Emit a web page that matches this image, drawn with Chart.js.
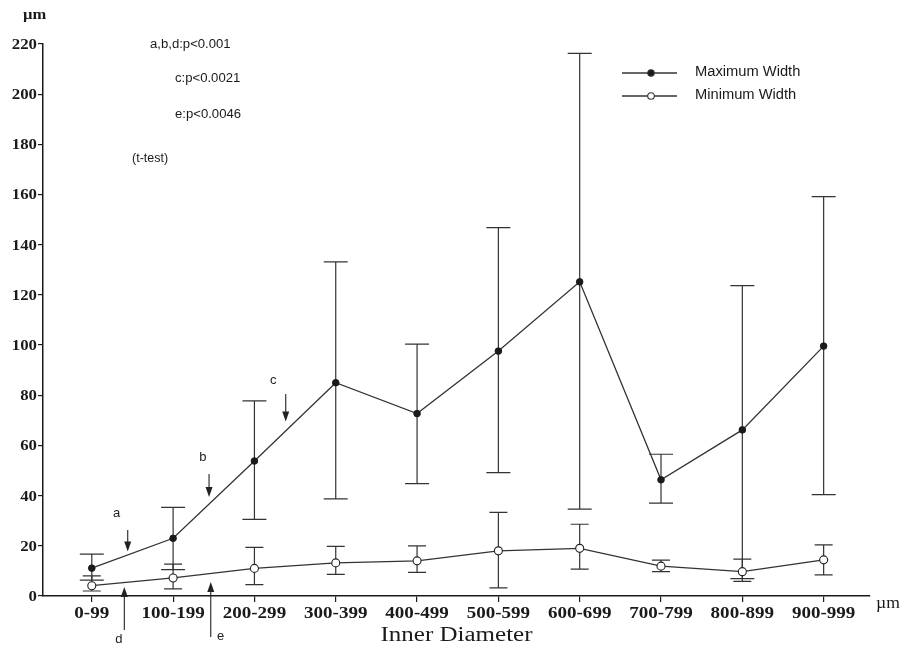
<!DOCTYPE html>
<html>
<head>
<meta charset="utf-8">
<script src="https://cdn.jsdelivr.net/npm/chart.js@4/dist/chart.umd.min.js"></script>
<style>
  html, body { margin: 0; padding: 0; background: #ffffff; }
  canvas { display: block; }
</style>
</head>
<body>
<canvas id="c" width="905" height="647"></canvas>
<script>
// ---- data ----
const categories = ['0-99','100-199','200-299','300-399','400-499','500-599','600-699','700-799','800-899','900-999'];
const yTicks = [0,20,40,60,80,100,120,140,160,180,200,220];

const maxMean  = [11.1, 23.0, 53.8, 85.0, 72.7, 97.6, 125.2, 46.3, 66.2, 99.6];
const maxUpper = [16.7, 35.3, 77.8, 133.2, 100.4, 146.8, 216.3, 56.5, 123.7, 159.2];
const maxLower = [6.3, 10.5, 30.5, 38.7, 44.8, 49.2, 34.6, 37.0, 6.9, 40.4];

const minMean  = [4.1, 7.2, 11.0, 13.2, 14.0, 18.0, 19.0, 11.9, 9.7, 14.4];
const minUpper = [8.0, 12.7, 19.4, 19.8, 20.0, 33.3, 28.6, 14.3, 14.7, 20.4];
const minLower = [2.0, 2.8, 4.5, 8.6, 9.4, 3.2, 10.7, 9.7, 5.8, 8.4];

const seriesNames = ['Maximum Width', 'Minimum Width'];
const statsLines = ['a,b,d:p<0.001', 'c:p<0.0021', 'e:p<0.0046', '(t-test)'];
const xTitle = 'Inner Diameter';
const unit = '\u00B5m';

// significance arrows: x in category units, y in data units
const arrowsDown = [
  { label: 'a', x: 0.442, y1: 26.3, y2: 17.7, lx: 0.26, ly: 33.1 },
  { label: 'b', x: 1.442, y1: 48.6, y2: 39.5, lx: 1.32, ly: 55.4 },
  { label: 'c', x: 2.385, y1: 80.5, y2: 69.5, lx: 2.19, ly: 86.1 }
];
const arrowsUp = [
  { label: 'd', x: 0.40, y1: -13.6, y2: 3.6, lx: 0.29, ly: -17.3 },
  { label: 'e', x: 1.463, y1: -16.3, y2: 5.6, lx: 1.54, ly: -16.3 }
];

const INK = '#1a1a1a';
const SERIF = '"Liberation Serif", "Times New Roman", serif';
const SANS = '"Liberation Sans", Arial, sans-serif';

function toPts(arr) { return arr.map((v, i) => ({ x: i, y: v })); }

function sText(ctx, text, x, y, align, sx) {
  ctx.save();
  ctx.translate(x, y);
  ctx.scale(sx, 1);
  ctx.textAlign = align;
  ctx.fillText(text, 0, 0);
  ctx.restore();
}

const errorBars = {
  id: 'errorBars',
  beforeDatasetsDraw(chart) {
    const { ctx, scales: { x, y } } = chart;
    const sets = [
      { lo: maxLower, hi: maxUpper, cap: 12 },
      { lo: minLower, hi: minUpper, cap: 9 }
    ];
    ctx.save();
    ctx.strokeStyle = '#333';
    ctx.lineWidth = 1.2;
    sets.forEach(s => {
      categories.forEach((c, i) => {
        const px = x.getPixelForValue(i);
        const pHi = y.getPixelForValue(s.hi[i]);
        const pLo = y.getPixelForValue(s.lo[i]);
        ctx.beginPath();
        ctx.moveTo(px, pHi); ctx.lineTo(px, pLo);
        ctx.moveTo(px - s.cap, pHi); ctx.lineTo(px + s.cap, pHi);
        ctx.moveTo(px - s.cap, pLo); ctx.lineTo(px + s.cap, pLo);
        ctx.stroke();
      });
    });
    ctx.restore();
  }
};

const decorations = {
  id: 'decorations',
  afterDraw(chart) {
    const { ctx, scales: { x, y }, chartArea } = chart;
    ctx.save();
    ctx.fillStyle = INK;
    ctx.textBaseline = 'middle';

    // y tick labels
    ctx.font = 'bold 15px ' + SERIF;
    yTicks.forEach(v => sText(ctx, String(v), chartArea.left - 6, y.getPixelForValue(v) + 1, 'right', 1.12));
    // x tick labels
    ctx.font = 'bold 17px ' + SERIF;
    categories.forEach((c, i) => sText(ctx, c, x.getPixelForValue(i), chartArea.bottom + 18, 'center', 1.12));
    // units
    ctx.font = 'bold 15px ' + SERIF;
    sText(ctx, unit, 23, 15, 'left', 1.1);
    ctx.font = '16px ' + SERIF;
    sText(ctx, unit, chartArea.right + 6, chartArea.bottom + 8, 'left', 1.1);
    // x title
    ctx.font = '20px ' + SERIF;
    sText(ctx, xTitle, (chartArea.left + chartArea.right) / 2 + 0, chartArea.bottom + 40, 'center', 1.25);

    // stats text
    ctx.font = '12.5px ' + SANS;
    sText(ctx, statsLines[0], 150, 45, 'left', 1.05);
    sText(ctx, statsLines[1], 175, 79, 'left', 1.05);
    sText(ctx, statsLines[2], 175, 115, 'left', 1.05);
    sText(ctx, statsLines[3], 132, 159, 'left', 1.0);

    // legend
    const legendRows = [
      { name: seriesNames[0], yy: 73, fill: INK, r: 3.2 },
      { name: seriesNames[1], yy: 96, fill: '#ffffff', r: 3.3 }
    ];
    legendRows.forEach(row => {
      ctx.strokeStyle = '#333';
      ctx.lineWidth = 1.3;
      ctx.beginPath(); ctx.moveTo(622, row.yy); ctx.lineTo(677, row.yy); ctx.stroke();
      ctx.beginPath(); ctx.arc(651, row.yy, row.r, 0, Math.PI * 2);
      ctx.fillStyle = row.fill; ctx.fill(); ctx.lineWidth = 1.1; ctx.stroke();
      ctx.fillStyle = INK;
      ctx.font = '14px ' + SANS;
      sText(ctx, row.name, 695, row.yy - 1, 'left', 1.05);
    });

    // arrows
    ctx.strokeStyle = '#222';
    ctx.fillStyle = '#222';
    ctx.lineWidth = 1.1;
    ctx.font = '13px ' + SANS;
    const head = (px, py, dir) => { // dir 1 = down, -1 = up
      ctx.beginPath();
      ctx.moveTo(px, py);
      ctx.lineTo(px - 3.5, py - dir * 10);
      ctx.lineTo(px + 3.5, py - dir * 10);
      ctx.closePath();
      ctx.fill();
    };
    arrowsDown.forEach(a => {
      const px = x.getPixelForValue(a.x);
      const p1 = y.getPixelForValue(a.y1), p2 = y.getPixelForValue(a.y2);
      ctx.beginPath(); ctx.moveTo(px, p1); ctx.lineTo(px, p2 - 6); ctx.stroke();
      head(px, p2, 1);
      ctx.fillText(a.label, x.getPixelForValue(a.lx), y.getPixelForValue(a.ly));
    });
    arrowsUp.forEach(a => {
      const px = x.getPixelForValue(a.x);
      const p1 = y.getPixelForValue(a.y1), p2 = y.getPixelForValue(a.y2);
      ctx.beginPath(); ctx.moveTo(px, p1); ctx.lineTo(px, p2 + 6); ctx.stroke();
      head(px, p2, -1);
      ctx.fillText(a.label, x.getPixelForValue(a.lx), y.getPixelForValue(a.ly));
    });
    ctx.restore();
  }
};

new Chart(document.getElementById('c'), {
  type: 'line',
  data: {
    datasets: [
      {
        label: seriesNames[0],
        data: toPts(maxMean),
        borderColor: '#333',
        borderWidth: 1.3,
        pointRadius: 3.3,
        pointBackgroundColor: INK,
        pointBorderColor: INK,
        pointBorderWidth: 1,
        tension: 0,
        fill: false
      },
      {
        label: seriesNames[1],
        data: toPts(minMean),
        borderColor: '#333',
        borderWidth: 1.3,
        pointRadius: 4,
        pointBackgroundColor: '#ffffff',
        pointBorderColor: '#222',
        pointBorderWidth: 1.1,
        tension: 0,
        fill: false
      }
    ]
  },
  options: {
    responsive: false,
    animation: false,
    devicePixelRatio: 1,
    layout: { padding: { top: 44, right: 35, left: 0, bottom: 0 } },
    plugins: { legend: { display: false }, tooltip: { enabled: false } },
    scales: {
      x: {
        type: 'linear',
        min: -0.6,
        max: 9.57,
        afterBuildTicks: s => { s.ticks = categories.map((c, i) => ({ value: i })); },
        afterFit: s => { s.height = 51; },
        ticks: { display: false },
        grid: { drawOnChartArea: false, drawTicks: true, tickLength: 6, color: INK, lineWidth: 1.2 },
        border: { display: true, color: INK, width: 1.5 }
      },
      y: {
        type: 'linear',
        min: 0,
        max: 220,
        afterBuildTicks: s => { s.ticks = yTicks.map(v => ({ value: v })); },
        afterFit: s => { s.width = 43; },
        ticks: { display: false },
        grid: { drawOnChartArea: false, drawTicks: true, tickLength: 5, color: INK, lineWidth: 1.2 },
        border: { display: true, color: INK, width: 1.5 }
      }
    }
  },
  plugins: [errorBars, decorations]
});
</script>
</body>
</html>
